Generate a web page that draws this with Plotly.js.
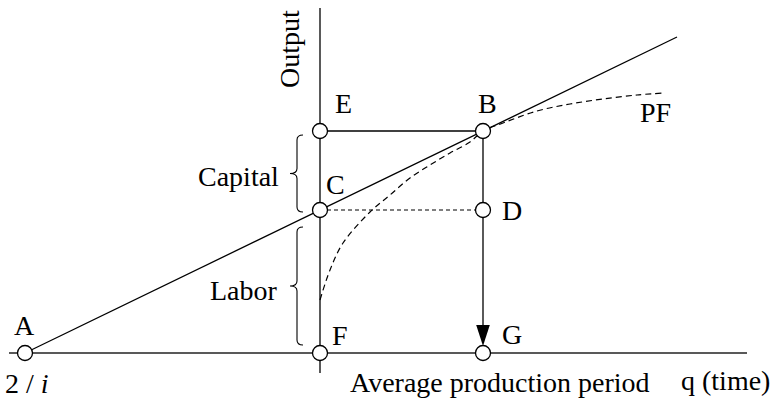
<!DOCTYPE html>
<html>
<head>
<meta charset="utf-8">
<script src="https://cdn.plot.ly/plotly-3.0.1.min.js"></script>
<style>html,body{margin:0;padding:0;background:#fff;}#chart{width:772px;height:400px;}</style>
</head>
<body>
<div id="chart"></div>
<script>
// Key points of the diagram (x: time, y: output; F is the origin)
var pointNames = ["A", "F", "G", "C", "D", "E", "B"];
var pointX = [-295, 0, 163, 0, 163, 0, 163];
var pointY = [0, 0, 0, 143, 143, 222, 222];

// Axis extents
var timeAxisX = [-311, 427];
var outputAxisY = [-20, 345];

// Ray from A through C and B
var rayX = [-295, 357];
var rayY = [0, 316];

// Production function (PF), dashed curve
var pfX = [0, 10, 23, 50, 70, 90, 110, 130, 150, 163, 183, 217, 250, 283, 317, 343];
var pfY = [53, 83, 110, 141, 158, 175, 188, 200, 211, 222, 230, 242, 249, 254, 258, 260];

// Braces: [bottom, top] extents
var braceNames = ["Capital", "Labor"];
var braceBottom = [141, 8];
var braceTop = [218, 126];

// Text labels
var labelText = ["Output", "E", "B", "PF", "C", "D", "G", "F", "A", "2 / <i>i</i>", "Capital", "Labor", "q (time)", "Average production period"];
var labelX = [-31, 23, 167, 335, 15, 192, 192, 20, -296, -293, -82, -76, 405, 180];
var labelY = [304, 250, 250, 241, 169, 143, 19, 18, 28, -30, 177, 63, -27, -29];
var labelAngle = [-90, 0, 0, 0, 0, 0, 0, 0, 0, 0, 0, 0, 0, 0];

var black = "#000";
var lw = 1.3;
var traces = [];

// axes
traces.push({x: timeAxisX, y: [0, 0], mode: "lines", line: {color: "#222", width: 1.5}, hoverinfo: "skip"});
traces.push({x: [0, 0], y: outputAxisY, mode: "lines", line: {color: black, width: lw}, hoverinfo: "skip"});
// PF curve
traces.push({x: pfX, y: pfY, mode: "lines", line: {color: black, width: 1.2, dash: "6px,4px", shape: "spline", smoothing: 1}, hoverinfo: "skip"});
// ray
traces.push({x: rayX, y: rayY, mode: "lines", line: {color: black, width: lw}, hoverinfo: "skip"});
// E-B
traces.push({x: [pointX[5], pointX[6]], y: [pointY[5], pointY[6]], mode: "lines", line: {color: black, width: lw}, hoverinfo: "skip"});
// C-D dashed
traces.push({x: [pointX[3], pointX[4]], y: [pointY[3], pointY[4]], mode: "lines", line: {color: black, width: 1.2, dash: "4px,3px"}, hoverinfo: "skip"});
// B-D-G vertical with arrow
traces.push({x: [pointX[6], pointX[2]], y: [pointY[6], pointY[2] + 20], mode: "lines", line: {color: black, width: lw}, hoverinfo: "skip"});
traces.push({x: [pointX[2]], y: [pointY[2] + 7], mode: "markers", marker: {symbol: "arrow", angle: 180, size: 22, color: black, line: {width: 0}}, hoverinfo: "skip"});
// circles
traces.push({x: pointX, y: pointY, text: pointNames, mode: "markers", marker: {symbol: "circle", size: 15, color: "#fff", line: {color: black, width: 1.3}}, hoverinfo: "skip"});

// braces as shapes
var shapes = [];
var braceXs = [-23, -23];
for (var i = 0; i < braceNames.length; i++) {
  var xb = braceXs[i], y0 = braceBottom[i], y1 = braceTop[i], ym = (y0 + y1) / 2;
  var d = 6, w = 7, r = 5;
  var p = "M" + (xb + d) + "," + y1 +
    " Q" + xb + "," + y1 + " " + xb + "," + (y1 - r) +
    " L" + xb + "," + (ym + r) +
    " Q" + xb + "," + ym + " " + (xb - w) + "," + ym +
    " Q" + xb + "," + ym + " " + xb + "," + (ym - r) +
    " L" + xb + "," + (y0 + r) +
    " Q" + xb + "," + y0 + " " + (xb + d) + "," + y0;
  shapes.push({type: "path", xref: "x", yref: "y", path: p, line: {color: black, width: 1.1}});
}

var annotations = [];
for (var j = 0; j < labelText.length; j++) {
  annotations.push({x: labelX[j], y: labelY[j], xref: "x", yref: "y", text: labelText[j], showarrow: false,
    textangle: labelAngle[j], xanchor: "center", yanchor: "middle",
    font: {family: "Liberation Serif", size: 28, color: black}});
}

var layout = {
  width: 772, height: 400,
  margin: {l: 0, r: 0, t: 0, b: 0},
  paper_bgcolor: "#fff", plot_bgcolor: "#fff",
  showlegend: false,
  xaxis: {range: [-320, 452], visible: false, fixedrange: true},
  yaxis: {range: [-47, 353], visible: false, fixedrange: true},
  shapes: shapes,
  annotations: annotations
};

Plotly.newPlot("chart", traces, layout, {displayModeBar: false, staticPlot: true});
</script>
</body>
</html>
